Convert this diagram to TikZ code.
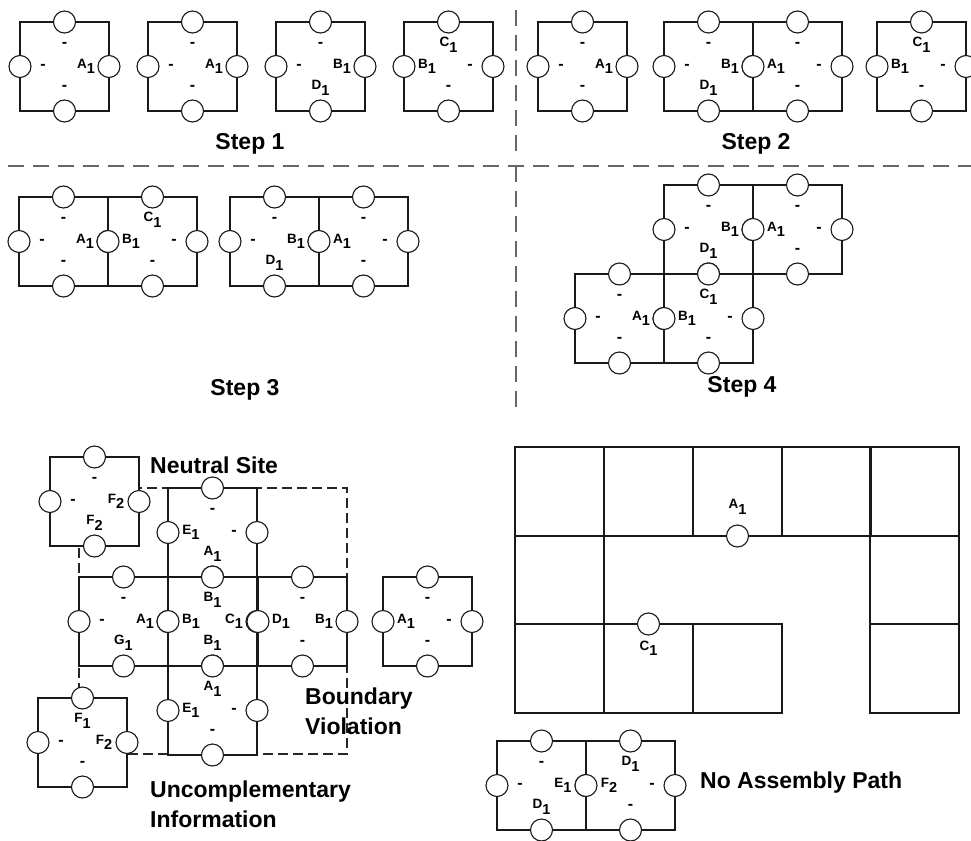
\documentclass[tikz,border=0pt]{standalone}
\usepackage{fontspec}
\setmainfont{Liberation Sans}
\begin{document}
% labels: letter with a lowered, larger index digit
\newcommand\sbl[2]{{\fontsize{13.5}{14}\selectfont\bfseries #1}\raisebox{-5.5pt}{\fontsize{14.5}{15}\selectfont\bfseries #2}}
\newcommand\nil{{\fontsize{16}{16}\selectfont\bfseries -}}
% one square tile with four sites: name, x, y (top left), top, left, right, bottom label
\newcommand\tile[7]{%
  \draw[edge,fill=white] (#2,#3) rectangle ++(89,89);
  \node[port] (#1-pt) at ({#2+44.5},#3) {};
  \node[port] (#1-pl) at (#2,{#3+44.5}) {};
  \node[port] (#1-pr) at ({#2+89},{#3+44.5}) {};
  \node[port] (#1-pb) at ({#2+44.5},{#3+89}) {};
  \node[lab] (#1-lt) at ({#2+44.5},{#3+23}) {#4};
  \node[lab] (#1-ll) at ({#2+23},{#3+44.5}) {#5};
  \node[lab] (#1-lr) at ({#2+66},{#3+44.5}) {#6};
  \node[lab] (#1-lb) at ({#2+44.5},{#3+66}) {#7};
}
\begin{tikzpicture}[x=1pt,y=-1pt,
  edge/.style={draw=black!90,line width=1.1pt},
  port/.style={circle,draw=black!90,line width=1.1pt,fill=white,minimum size=22pt,inner sep=0pt},
  lab/.style={inner sep=0pt},
  sep/.style={draw=black!60,line width=1.2pt,dash pattern=on 16pt off 9pt},
  box/.style={draw=black!85,line width=1.1pt,dash pattern=on 10pt off 5pt},
  title/.style={inner sep=0pt,font=\fontsize{23}{30}\selectfont\bfseries,align=left}]
\path[fill=white,use as bounding box] (0,0) rectangle (971,840);

% separators between the four steps
\coordinate (h0) at (8,166);
\coordinate (h1) at (971,166);
\coordinate (v0) at (516,10);
\coordinate (v1) at (516,155);
\coordinate (v2) at (516,408);
\draw[sep] (h0) -- (h1);
\draw[sep] (v0) -- (v1);
\draw[sep] (h0 -| v0) -- (v2);

% Step 1
\tile{s1a}{20}{22}{\nil}{\nil}{\sbl{A}{1}}{\nil}
\tile{s1b}{148}{22}{\nil}{\nil}{\sbl{A}{1}}{\nil}
\tile{s1c}{276}{22}{\nil}{\nil}{\sbl{B}{1}}{\sbl{D}{1}}
\tile{s1d}{404}{22}{\sbl{C}{1}}{\sbl{B}{1}}{\nil}{\nil}
\node[title] (st1) at (250,144) {Step 1};

% Step 2
\tile{s2a}{538}{22}{\nil}{\nil}{\sbl{A}{1}}{\nil}
\tile{s2b}{664}{22}{\nil}{\nil}{\sbl{B}{1}}{\sbl{D}{1}}
\tile{s2c}{753}{22}{\nil}{\sbl{A}{1}}{\nil}{\nil}
\tile{s2d}{877}{22}{\sbl{C}{1}}{\sbl{B}{1}}{\nil}{\nil}
\node[title] (st2) at (756,144) {Step 2};

% Step 3
\tile{s3a}{19}{197}{\nil}{\nil}{\sbl{A}{1}}{\nil}
\tile{s3b}{108}{197}{\sbl{C}{1}}{\sbl{B}{1}}{\nil}{\nil}
\tile{s3c}{230}{197}{\nil}{\nil}{\sbl{B}{1}}{\sbl{D}{1}}
\tile{s3d}{319}{197}{\nil}{\sbl{A}{1}}{\nil}{\nil}
\node[title] (st3) at (245,390) {Step 3};

% Step 4
\tile{s4a}{664}{185}{\nil}{\nil}{\sbl{B}{1}}{\sbl{D}{1}}
\tile{s4b}{753}{185}{\nil}{\sbl{A}{1}}{\nil}{\nil}
\tile{s4c}{575}{274}{\nil}{\nil}{\sbl{A}{1}}{\nil}
\tile{s4d}{664}{274}{\sbl{C}{1}}{\sbl{B}{1}}{\nil}{\nil}
\node[title] (st4) at (742,387) {Step 4};

% assembly with faults
\draw[box] (79,488) rectangle (347,754);
\tile{ce}{168}{488}{\nil}{\sbl{E}{1}}{\nil}{\sbl{A}{1}}
\tile{cg}{79}{577}{\nil}{\nil}{\sbl{A}{1}}{\sbl{G}{1}}
\tile{cc}{168}{577}{\sbl{B}{1}}{\sbl{B}{1}}{\sbl{C}{1}}{\sbl{B}{1}}
\tile{cd}{258}{577}{\nil}{\sbl{D}{1}}{\sbl{B}{1}}{\nil}
\tile{cb}{168}{666}{\sbl{A}{1}}{\sbl{E}{1}}{\nil}{\nil}
\tile{ci}{383}{577}{\nil}{\sbl{A}{1}}{\nil}{\nil}
\tile{cn}{50}{457}{\nil}{\nil}{\sbl{F}{2}}{\sbl{F}{2}}
\tile{cf}{38}{698}{\sbl{F}{1}}{\nil}{\sbl{F}{2}}{\nil}
\node[title,anchor=west] (tn) at (150,465) {Neutral Site};
\node[title,anchor=north west] (tb) at (305,688) {Boundary\\Violation};
\node[title,anchor=north west] (tu) at (150,781) {Uncomplementary\\Information};

% growth frontier with no path
\foreach \x in {515,604,693,782,870} \draw[edge] (\x,447) rectangle ++(89,89);
\draw[edge] (515,536) rectangle (604,624);
\draw[edge] (870,536) rectangle (959,624);
\foreach \x in {515,604,693} \draw[edge] (\x,624) rectangle ++(89,89);
\draw[edge] (870,624) rectangle (959,713);
\node[port] (ga) at (737.5,536) {};
\node[lab,above=10pt] (gal) at (ga.north) {\sbl{A}{1}};
\node[port] (gc) at (648.5,624) {};
\node[lab,below=5pt] (gcl) at (gc.south) {\sbl{C}{1}};

\tile{na}{497}{741}{\nil}{\nil}{\sbl{E}{1}}{\sbl{D}{1}}
\tile{nb}{586}{741}{\sbl{D}{1}}{\sbl{F}{2}}{\nil}{\nil}
\node[title,anchor=west] (tp) at (700,783) {No Assembly Path};
\end{tikzpicture}
\end{document}
